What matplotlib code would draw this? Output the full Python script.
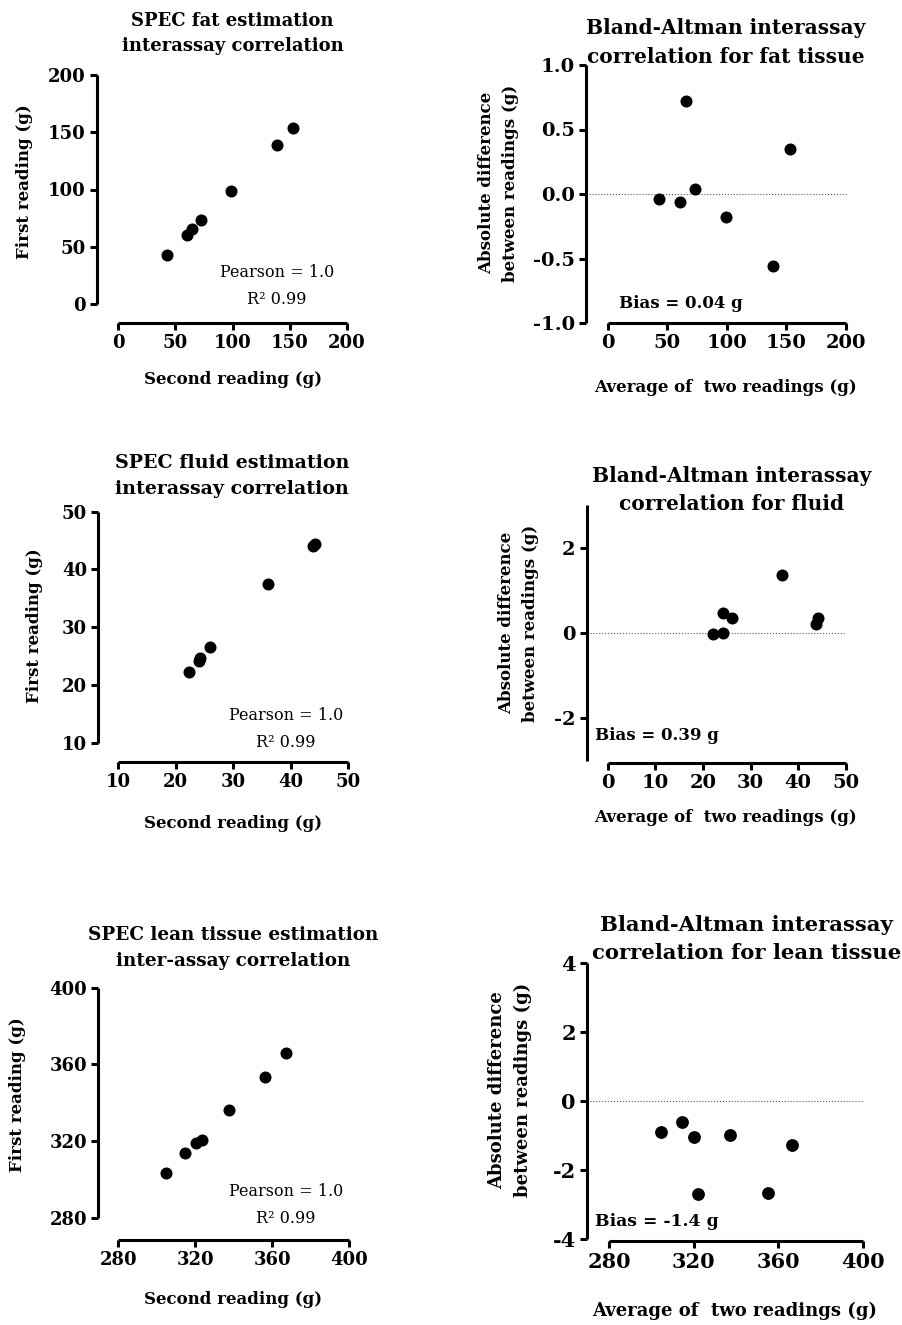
"""SPEC interassay correlation and Bland-Altman figures (fat, fluid, lean tissue)."""
import matplotlib
matplotlib.use("Agg")
import matplotlib.pyplot as plt

W, H = 902, 1325
plt.rcParams["font.family"] = ["DejaVu Serif"]
plt.rcParams["font.weight"] = "bold"
plt.rcParams["axes.labelweight"] = "bold"
plt.rcParams["axes.unicode_minus"] = False

# ---- data ----
fat_second = [42.8, 60.2, 64.8, 72.9, 98.4, 138.9, 152.8]
fat_first = [42.7, 60.5, 65.5, 73.1, 99.1, 138.9, 154.1]
fat_avg = [42.9, 60.5, 65.5, 73.1, 99.2, 139.2, 153.5]
fat_diff = [-0.04, -0.06, 0.72, 0.04, -0.18, -0.56, 0.35]

fluid_second = [22.3, 24.0, 24.3, 26.0, 36.0, 43.9, 44.3]
fluid_first = [22.3, 24.2, 24.6, 26.5, 37.5, 44.0, 44.4]
fluid_avg = [22.2, 24.3, 24.2, 26.1, 36.6, 43.8, 44.2]
fluid_diff = [-0.02, -0.01, 0.46, 0.36, 1.36, 0.21, 0.36]

lean_second = [304.7, 314.7, 320.3, 323.4, 337.4, 356.3, 367.2]
lean_first = [303.5, 313.9, 319.0, 320.5, 336.2, 353.3, 365.8]
lean_avg = [304.5, 314.7, 320.1, 322.0, 337.2, 355.2, 366.4]
lean_diff = [-0.91, -0.62, -1.03, -2.69, -0.98, -2.66, -1.26]

fig = plt.figure(figsize=(W / 100, H / 100), dpi=100)
fig.patch.set_facecolor("white")


def fx(px):
    return px / W


def fy(py):
    return 1 - py / H


def make_axes(x0, x1, y0, y1, xlim, ylim, xticks, yticks, loff, boff, tsize):
    ax = fig.add_axes([fx(x0), fy(y1), (x1 - x0) / W, (y1 - y0) / H])
    ax.set_xlim(xlim)
    ax.set_ylim(ylim)
    ax.set_xticks(xticks)
    ax.set_yticks(yticks)
    for s in ("top", "right"):
        ax.spines[s].set_visible(False)
    ax.spines["left"].set_position(("outward", loff * 0.72))
    ax.spines["bottom"].set_position(("outward", boff * 0.72))
    for s in ("left", "bottom"):
        ax.spines[s].set_linewidth(2.2)
        ax.spines[s].set_capstyle("butt")
    ax.tick_params(width=2.2, length=5, labelsize=tsize, pad=3)
    ax.patch.set_alpha(0)
    return ax


def dots(ax, x, y, s=75):
    ax.scatter(x, y, s=s, color="black", linewidths=0, clip_on=False, zorder=3)


def title(cx, cy, text, size, ls=1.6):
    fig.text(fx(cx), fy(cy), text, ha="center", va="center", fontsize=size,
             linespacing=ls)


def labels(ax, xl, xpos, yl, ypos, size):
    ax.set_xlabel(xl, fontsize=size, va="center")
    ax.xaxis.set_label_coords(fx(xpos[0]), fy(xpos[1]), transform=fig.transFigure)
    ax.set_ylabel(yl, fontsize=size, va="center", ha="center", linespacing=1.55)
    ax.yaxis.set_label_coords(fx(ypos[0]), fy(ypos[1]), transform=fig.transFigure)


def pearson(cx, cy, size=11.5):
    fig.text(fx(cx), fy(cy), "Pearson = 1.0\nR² 0.99", ha="center", va="center",
             fontsize=size, fontweight="normal", linespacing=1.8)


def zero_line(ax, loff, width_px):
    ax.axhline(0, xmin=-loff / width_px, xmax=1, ls=":", lw=0.8, color="#555555",
               clip_on=False, zorder=1)


BA_Y = "Absolute difference\nbetween readings (g)"
BA_X = "Average of  two readings (g)"

# ---- fat ----
ax = make_axes(118, 347, 75, 304, (0, 200), (0, 200), [0, 50, 100, 150, 200],
               [0, 50, 100, 150, 200], 21, 19, 13)
dots(ax, fat_second, fat_first)
labels(ax, "Second reading (g)", (233, 380), "First reading (g)", (25, 182), 12)
title(232.5, 33.5, "SPEC fat estimation\ninterassay correlation", 13, 1.55)
pearson(277, 286)

ax = make_axes(607.7, 845.7, 65, 323, (0, 200), (-1, 1), [0, 50, 100, 150, 200],
               [-1.0, -0.5, 0.0, 0.5, 1.0], 21.7, 0, 14)
ax.set_yticklabels(["-1.0", "-0.5", "0.0", "0.5", "1.0"])
zero_line(ax, 21.7, 238)
dots(ax, fat_avg, fat_diff)
labels(ax, BA_X, (726, 387), BA_Y, (498.5, 183), 12)
title(726, 42.5, "Bland-Altman interassay\ncorrelation for fat tissue", 14.5, 1.55)
fig.text(fx(619), fy(303), "Bias = 0.04 g", ha="left", va="center", fontsize=12)

# ---- fluid ----
ax = make_axes(118, 348, 511.7, 742.7, (10, 50), (10, 50), [10, 20, 30, 40, 50],
               [10, 20, 30, 40, 50], 20, 19.3, 13)
dots(ax, fluid_second, fluid_first)
labels(ax, "Second reading (g)", (233, 823), "First reading (g)", (35, 626), 12)
title(232, 476, "SPEC fluid estimation\ninterassay correlation", 13.7, 1.5)
pearson(286, 729)

ax = make_axes(607.7, 845.7, 505, 761, (0, 50), (-3, 3), [0, 10, 20, 30, 40, 50],
               [-2, 0, 2], 21, 1.5, 14)
zero_line(ax, 21, 238)
dots(ax, fluid_avg, fluid_diff)
labels(ax, BA_X, (726, 817), BA_Y, (518.5, 623), 12)
title(732, 490, "Bland-Altman interassay\ncorrelation for fluid", 14.5, 1.45)
fig.text(fx(595), fy(735), "Bias = 0.39 g", ha="left", va="center", fontsize=12)

# ---- lean tissue ----
ax = make_axes(118.3, 349, 987.7, 1217.7, (280, 400), (280, 400), [280, 320, 360, 400],
               [280, 320, 360, 400], 20, 22, 13)
dots(ax, lean_second, lean_first)
labels(ax, "Second reading (g)", (233, 1300), "First reading (g)", (18, 1095), 12)
title(233, 948, "SPEC lean tissue estimation\ninter-assay correlation", 13.2, 1.55)
pearson(286, 1205)

ax = make_axes(609, 862.7, 962.7, 1239.3, (280, 400), (-4, 4), [280, 320, 360, 400],
               [-4, -2, 0, 2, 4], 22, 1.4, 15)
zero_line(ax, 22, 253.7)
dots(ax, lean_avg, lean_diff, s=85)
labels(ax, BA_X, (735, 1311), BA_Y, (510, 1090), 13)
title(746.7, 939, "Bland-Altman interassay\ncorrelation for lean tissue", 15.2, 1.45)
fig.text(fx(595), fy(1221), "Bias = -1.4 g", ha="left", va="center", fontsize=12.4)

fig.savefig("out.png", dpi=100, facecolor="white")
print("saved out.png")
